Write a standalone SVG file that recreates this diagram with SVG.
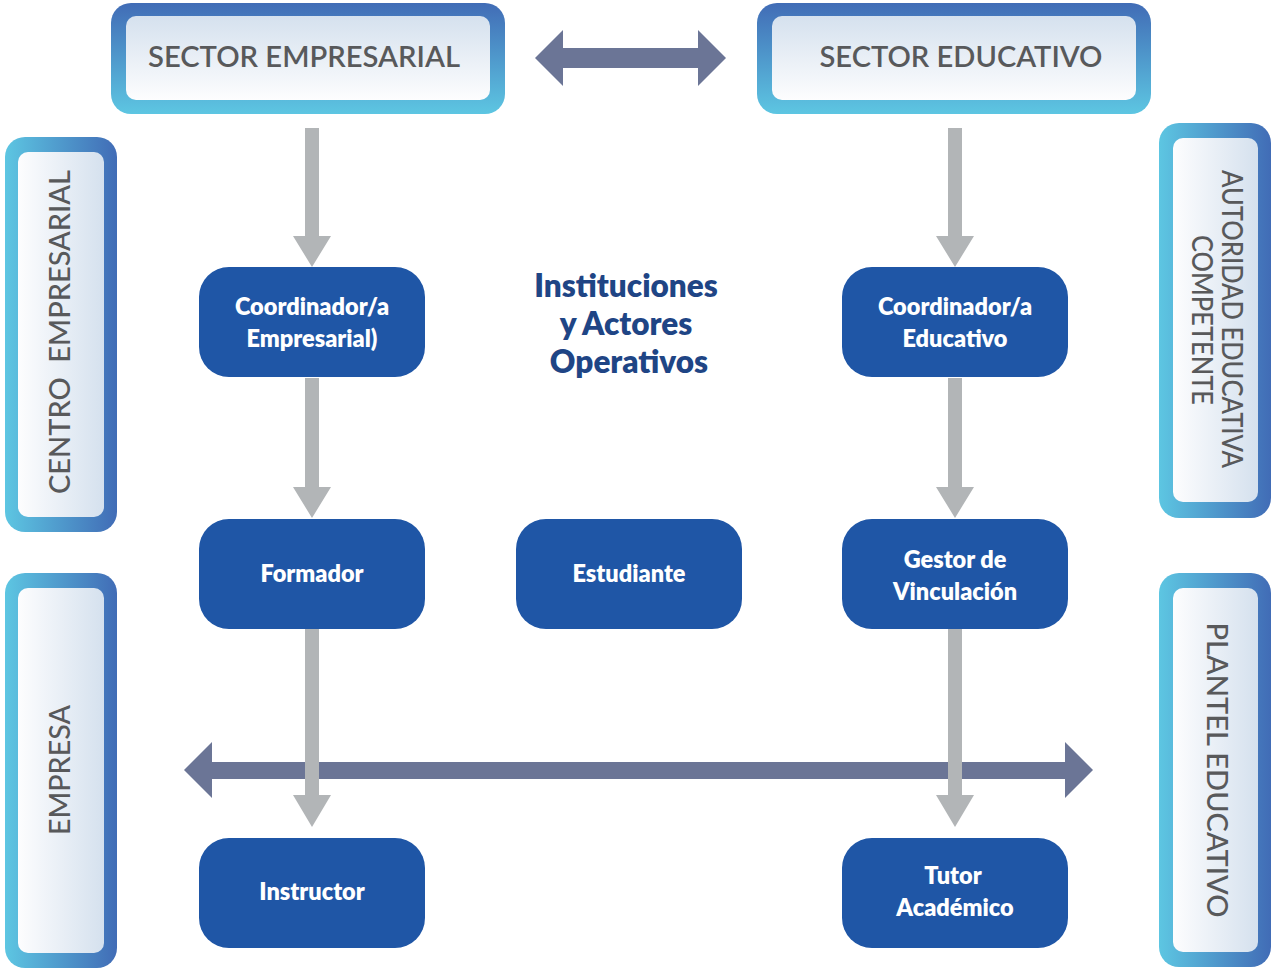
<svg xmlns="http://www.w3.org/2000/svg" width="1272" height="968" viewBox="0 0 1272 968">
<defs>
<linearGradient id="outerV" x1="0" y1="0" x2="0" y2="1"><stop offset="0" stop-color="#416cb6"/><stop offset="1" stop-color="#5dc6e2"/></linearGradient>
<linearGradient id="innerV" x1="0" y1="0" x2="0" y2="1"><stop offset="0" stop-color="#d5e1ee"/><stop offset="1" stop-color="#fdfdfe"/></linearGradient>
<linearGradient id="outerH" x1="0" y1="0" x2="1" y2="0"><stop offset="0" stop-color="#5dc6e2"/><stop offset="1" stop-color="#416cb6"/></linearGradient>
<linearGradient id="innerH" x1="0" y1="0" x2="1" y2="0"><stop offset="0" stop-color="#fdfdfe"/><stop offset="1" stop-color="#d5e1ee"/></linearGradient>
<style>
.head{font-family:Lato,"Liberation Sans",sans-serif;font-weight:600;font-size:28px;fill:#58595b}
.side{font-family:Lato,"Liberation Sans",sans-serif;font-weight:500;font-size:29px;fill:#58595b;white-space:pre}
.node rect{fill:#1f56a6}
.node text{font-family:Lato,"Liberation Sans",sans-serif;font-weight:800;font-size:23.5px;fill:#ffffff;text-anchor:middle}
.title{font-family:Lato,"Liberation Sans",sans-serif;font-weight:800;font-size:31.5px;fill:#1f4585;text-anchor:middle}
.gray{fill:#b2b5b7}
.blue{fill:#6b7596}
</style>
</defs>
<rect width="1272" height="968" fill="#ffffff"/>

<g id="sector-empresarial">
<rect x="111" y="3" width="394" height="111" rx="20" fill="url(#outerV)"/>
<rect x="126" y="16" width="364" height="84" rx="10" fill="url(#innerV)"/>
<text class="head" x="304" y="67" text-anchor="middle" textLength="312" lengthAdjust="spacingAndGlyphs">SECTOR EMPRESARIAL</text>
</g>
<g id="sector-educativo">
<rect x="757" y="3" width="394" height="111" rx="20" fill="url(#outerV)"/>
<rect x="772" y="16" width="364" height="84" rx="10" fill="url(#innerV)"/>
<text class="head" x="961" y="67" text-anchor="middle" textLength="283" lengthAdjust="spacingAndGlyphs">SECTOR EDUCATIVO</text>
</g>

<g id="centro-empresarial">
<rect x="5" y="137" width="112" height="395" rx="20" fill="url(#outerH)"/>
<rect x="18" y="152" width="86" height="365" rx="10" fill="url(#innerH)"/>
<text class="side" transform="translate(70,332) rotate(-90)" text-anchor="middle" textLength="324" lengthAdjust="spacingAndGlyphs">CENTRO  EMPRESARIAL</text>
</g>
<g id="empresa">
<rect x="5" y="573" width="112" height="395" rx="20" fill="url(#outerH)"/>
<rect x="18" y="588" width="86" height="365" rx="10" fill="url(#innerH)"/>
<text class="side" transform="translate(70,770) rotate(-90)" text-anchor="middle" textLength="130" lengthAdjust="spacingAndGlyphs">EMPRESA</text>
</g>
<g id="autoridad">
<rect x="1159" y="123" width="112" height="395" rx="20" fill="url(#outerH)"/>
<rect x="1173" y="138" width="85" height="364" rx="10" fill="url(#innerH)"/>
<text class="side" transform="translate(1222,319) rotate(90)" text-anchor="middle" textLength="298" lengthAdjust="spacingAndGlyphs">AUTORIDAD EDUCATIVA</text>
<text class="side" transform="translate(1192,320) rotate(90)" text-anchor="middle" textLength="170" lengthAdjust="spacingAndGlyphs">COMPETENTE</text>
</g>
<g id="plantel">
<rect x="1159" y="573" width="112" height="394" rx="20" fill="url(#outerH)"/>
<rect x="1173" y="588" width="85" height="364" rx="10" fill="url(#innerH)"/>
<text class="side" transform="translate(1207,770) rotate(90)" text-anchor="middle" textLength="295" lengthAdjust="spacingAndGlyphs">PLANTEL EDUCATIVO</text>
</g>

<g id="title">
<text class="title" x="626" y="297">Instituciones</text>
<text class="title" x="626" y="335">y Actores</text>
<text class="title" x="629" y="373">Operativos</text>
</g>

<g id="connectors">
<polygon class="blue" points="535,58 563,30 563,48 698,48 698,30 726,58 698,86 698,68 563,68 563,86"/>
<polygon class="blue" points="184,770 212,742 212,762 1065,762 1065,742 1093,770 1065,798 1065,779 212,779 212,798"/>
<polygon class="gray" points="305,128 319,128 319,236 331,236 312,267 293,236 305,236"/>
<polygon class="gray" points="305,378 319,378 319,487 331,487 312,518 293,487 305,487"/>
<polygon class="gray" points="305,628 319,628 319,795 331,795 312,827 293,795 305,795"/>
<polygon class="gray" points="948,128 962,128 962,236 974,236 955,267 936,236 948,236"/>
<polygon class="gray" points="948,378 962,378 962,487 974,487 955,518 936,487 948,487"/>
<polygon class="gray" points="948,628 962,628 962,795 974,795 955,827 936,795 948,795"/>
</g>

<g id="coord-empresarial" class="node"><rect x="199" y="267" width="226" height="110" rx="30"/><text x="312" y="315">Coordinador/a</text><text x="312" y="347">Empresarial)</text></g>
<g id="coord-educativo" class="node"><rect x="842" y="267" width="226" height="110" rx="30"/><text x="955" y="315">Coordinador/a</text><text x="955" y="347">Educativo</text></g>
<g id="formador" class="node"><rect x="199" y="519" width="226" height="110" rx="30"/><text x="312" y="582">Formador</text></g>
<g id="estudiante" class="node"><rect x="516" y="519" width="226" height="110" rx="30"/><text x="629" y="582">Estudiante</text></g>
<g id="gestor" class="node"><rect x="842" y="519" width="226" height="110" rx="30"/><text x="955" y="568">Gestor de</text><text x="955" y="600">Vinculación</text></g>
<g id="instructor" class="node"><rect x="199" y="838" width="226" height="110" rx="30"/><text x="312" y="900">Instructor</text></g>
<g id="tutor" class="node"><rect x="842" y="838" width="226" height="110" rx="30"/><text x="953" y="884">Tutor</text><text x="955" y="916">Académico</text></g>
</svg>
